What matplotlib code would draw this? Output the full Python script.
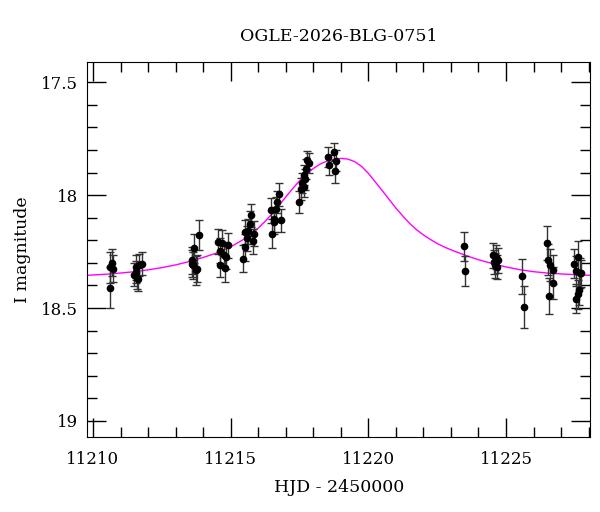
import matplotlib
matplotlib.use("Agg")
import matplotlib.pyplot as plt
from matplotlib.ticker import MultipleLocator

plt.rcParams['font.family'] = ['DejaVu Serif']

# photometry
hjd = [11210.61, 11210.68, 11210.74, 11210.62,
       11211.49, 11211.59, 11211.64, 11211.55, 11211.77, 11211.68, 11211.58,
       11213.61, 11213.67, 11213.73, 11213.85, 11213.65, 11213.79, 11213.58,
       11214.54, 11214.62, 11214.70, 11214.76, 11214.82, 11214.60, 11214.80, 11214.89,
       11215.45, 11215.52, 11215.59, 11215.64, 11215.70, 11215.75, 11215.81, 11215.83, 11215.53,
       11216.50, 11216.47, 11216.59, 11216.68, 11216.77, 11216.83, 11216.64, 11216.56,
       11217.49, 11217.54, 11217.60, 11217.67, 11217.74, 11217.79, 11217.84, 11217.71, 11217.66,
       11218.52, 11218.58, 11218.75, 11218.82, 11218.80,
       11223.48, 11223.52,
       11224.53, 11224.60, 11224.65, 11224.72, 11224.69, 11224.57,
       11225.59, 11225.65,
       11226.48, 11226.54, 11226.59, 11226.69, 11226.71, 11226.56,
       11227.47, 11227.53, 11227.62, 11227.68, 11227.72, 11227.65, 11227.60, 11227.55]
mag = [18.320, 18.300, 18.325, 18.410,
       18.352, 18.367, 18.373, 18.320, 18.303, 18.310, 18.340,
       18.288, 18.236, 18.333, 18.177, 18.310, 18.325, 18.303,
       18.206, 18.246, 18.210, 18.264, 18.273, 18.308, 18.323, 18.222,
       18.281, 18.231, 18.191, 18.160, 18.126, 18.089, 18.204, 18.171, 18.163,
       18.170, 18.067, 18.106, 18.030, 17.996, 18.111, 18.062, 18.118,
       18.030, 17.973, 17.945, 17.911, 17.885, 17.845, 17.858, 17.930, 17.963,
       17.830, 17.867, 17.810, 17.847, 17.895,
       18.226, 18.336,
       18.266, 18.310, 18.274, 18.288, 18.318, 18.296,
       18.359, 18.496,
       18.212, 18.285, 18.310, 18.330, 18.389, 18.448,
       18.303, 18.336, 18.274, 18.345, 18.345, 18.418, 18.439, 18.458]
err = [0.070, 0.060, 0.060, 0.090,
       0.050, 0.050, 0.050, 0.055, 0.050, 0.050, 0.050,
       0.060, 0.065, 0.065, 0.065, 0.060, 0.060, 0.060,
       0.055, 0.055, 0.055, 0.055, 0.055, 0.055, 0.060, 0.055,
       0.060, 0.060, 0.055, 0.055, 0.055, 0.050, 0.055, 0.055, 0.055,
       0.065, 0.055, 0.055, 0.050, 0.050, 0.050, 0.055, 0.055,
       0.050, 0.050, 0.045, 0.045, 0.045, 0.040, 0.045, 0.045, 0.045,
       0.045, 0.045, 0.040, 0.045, 0.050,
       0.065, 0.065,
       0.055, 0.055, 0.055, 0.055, 0.055, 0.055,
       0.078, 0.093,
       0.075, 0.070, 0.070, 0.065, 0.070, 0.080,
       0.065, 0.065, 0.070, 0.065, 0.060, 0.070, 0.065, 0.065]

# model curve, sampled by eye off the magenta line
model_t = [11209.8, 11210.5, 11211.0, 11211.5, 11212.0, 11212.5, 11213.0, 11213.5,
           11214.0, 11214.5, 11215.0, 11215.5, 11215.75, 11216.0, 11216.25, 11216.5,
           11216.75, 11217.0, 11217.25, 11217.5, 11217.75, 11218.0, 11218.25, 11218.5,
           11218.75, 11219.0, 11219.25, 11219.5, 11219.75, 11220.0, 11220.25, 11220.5,
           11220.75, 11221.0, 11221.25, 11221.5, 11221.75, 11222.0, 11222.25, 11222.5,
           11222.75, 11223.0, 11223.25, 11223.5, 11223.75, 11224.0, 11224.5, 11225.0,
           11225.5, 11226.0, 11226.5, 11227.0, 11227.5, 11228.05]
model_m = [18.355, 18.350, 18.345, 18.339, 18.331, 18.321, 18.309, 18.294,
           18.276, 18.256, 18.229, 18.194, 18.172, 18.146, 18.116, 18.083,
           18.046, 18.008, 17.971, 17.937, 17.907, 17.882, 17.862, 17.849,
           17.841, 17.837, 17.840, 17.851, 17.872, 17.903, 17.941, 17.979,
           18.018, 18.057, 18.092, 18.125, 18.153, 18.176, 18.196, 18.214,
           18.229, 18.242, 18.254, 18.265, 18.276, 18.286, 18.303, 18.318,
           18.330, 18.339, 18.345, 18.349, 18.352, 18.355]

fig = plt.figure(figsize=(6, 5.12), dpi=100)
ax = fig.add_axes([0.1458, 0.1471, 0.8375, 0.7318])

ax.plot(model_t, model_m, color='magenta', lw=1, zorder=2)
ax.errorbar(hjd, mag, yerr=err, fmt='o', color='black', ms=4.5,
            ecolor='0.2', elinewidth=1, capsize=3, capthick=1, zorder=3)

ax.set_xlim(11209.8, 11228.05)
ax.set_ylim(19.07, 17.41)
ax.xaxis.set_major_locator(MultipleLocator(5))
ax.xaxis.set_minor_locator(MultipleLocator(1))
ax.yaxis.set_major_locator(MultipleLocator(0.5))
ax.yaxis.set_minor_locator(MultipleLocator(0.1))
ax.yaxis.set_major_formatter(plt.FuncFormatter(lambda v, p: f"{v:g}"))
ax.tick_params(which='both', direction='in', top=True, right=True, width=1, labelsize=12)
ax.tick_params(which='major', length=14)
ax.tick_params(which='minor', length=7)
ax.tick_params(axis='x', which='major', pad=10)
ax.tick_params(axis='y', which='major', pad=7)

ax.set_xlabel("HJD - 2450000", fontsize=12.5, labelpad=8)
ax.set_ylabel("I magnitude", fontsize=12.5, labelpad=7)
ax.set_title("OGLE-2026-BLG-0751", fontsize=12.5, pad=15)

fig.savefig("out.png", dpi=100)
